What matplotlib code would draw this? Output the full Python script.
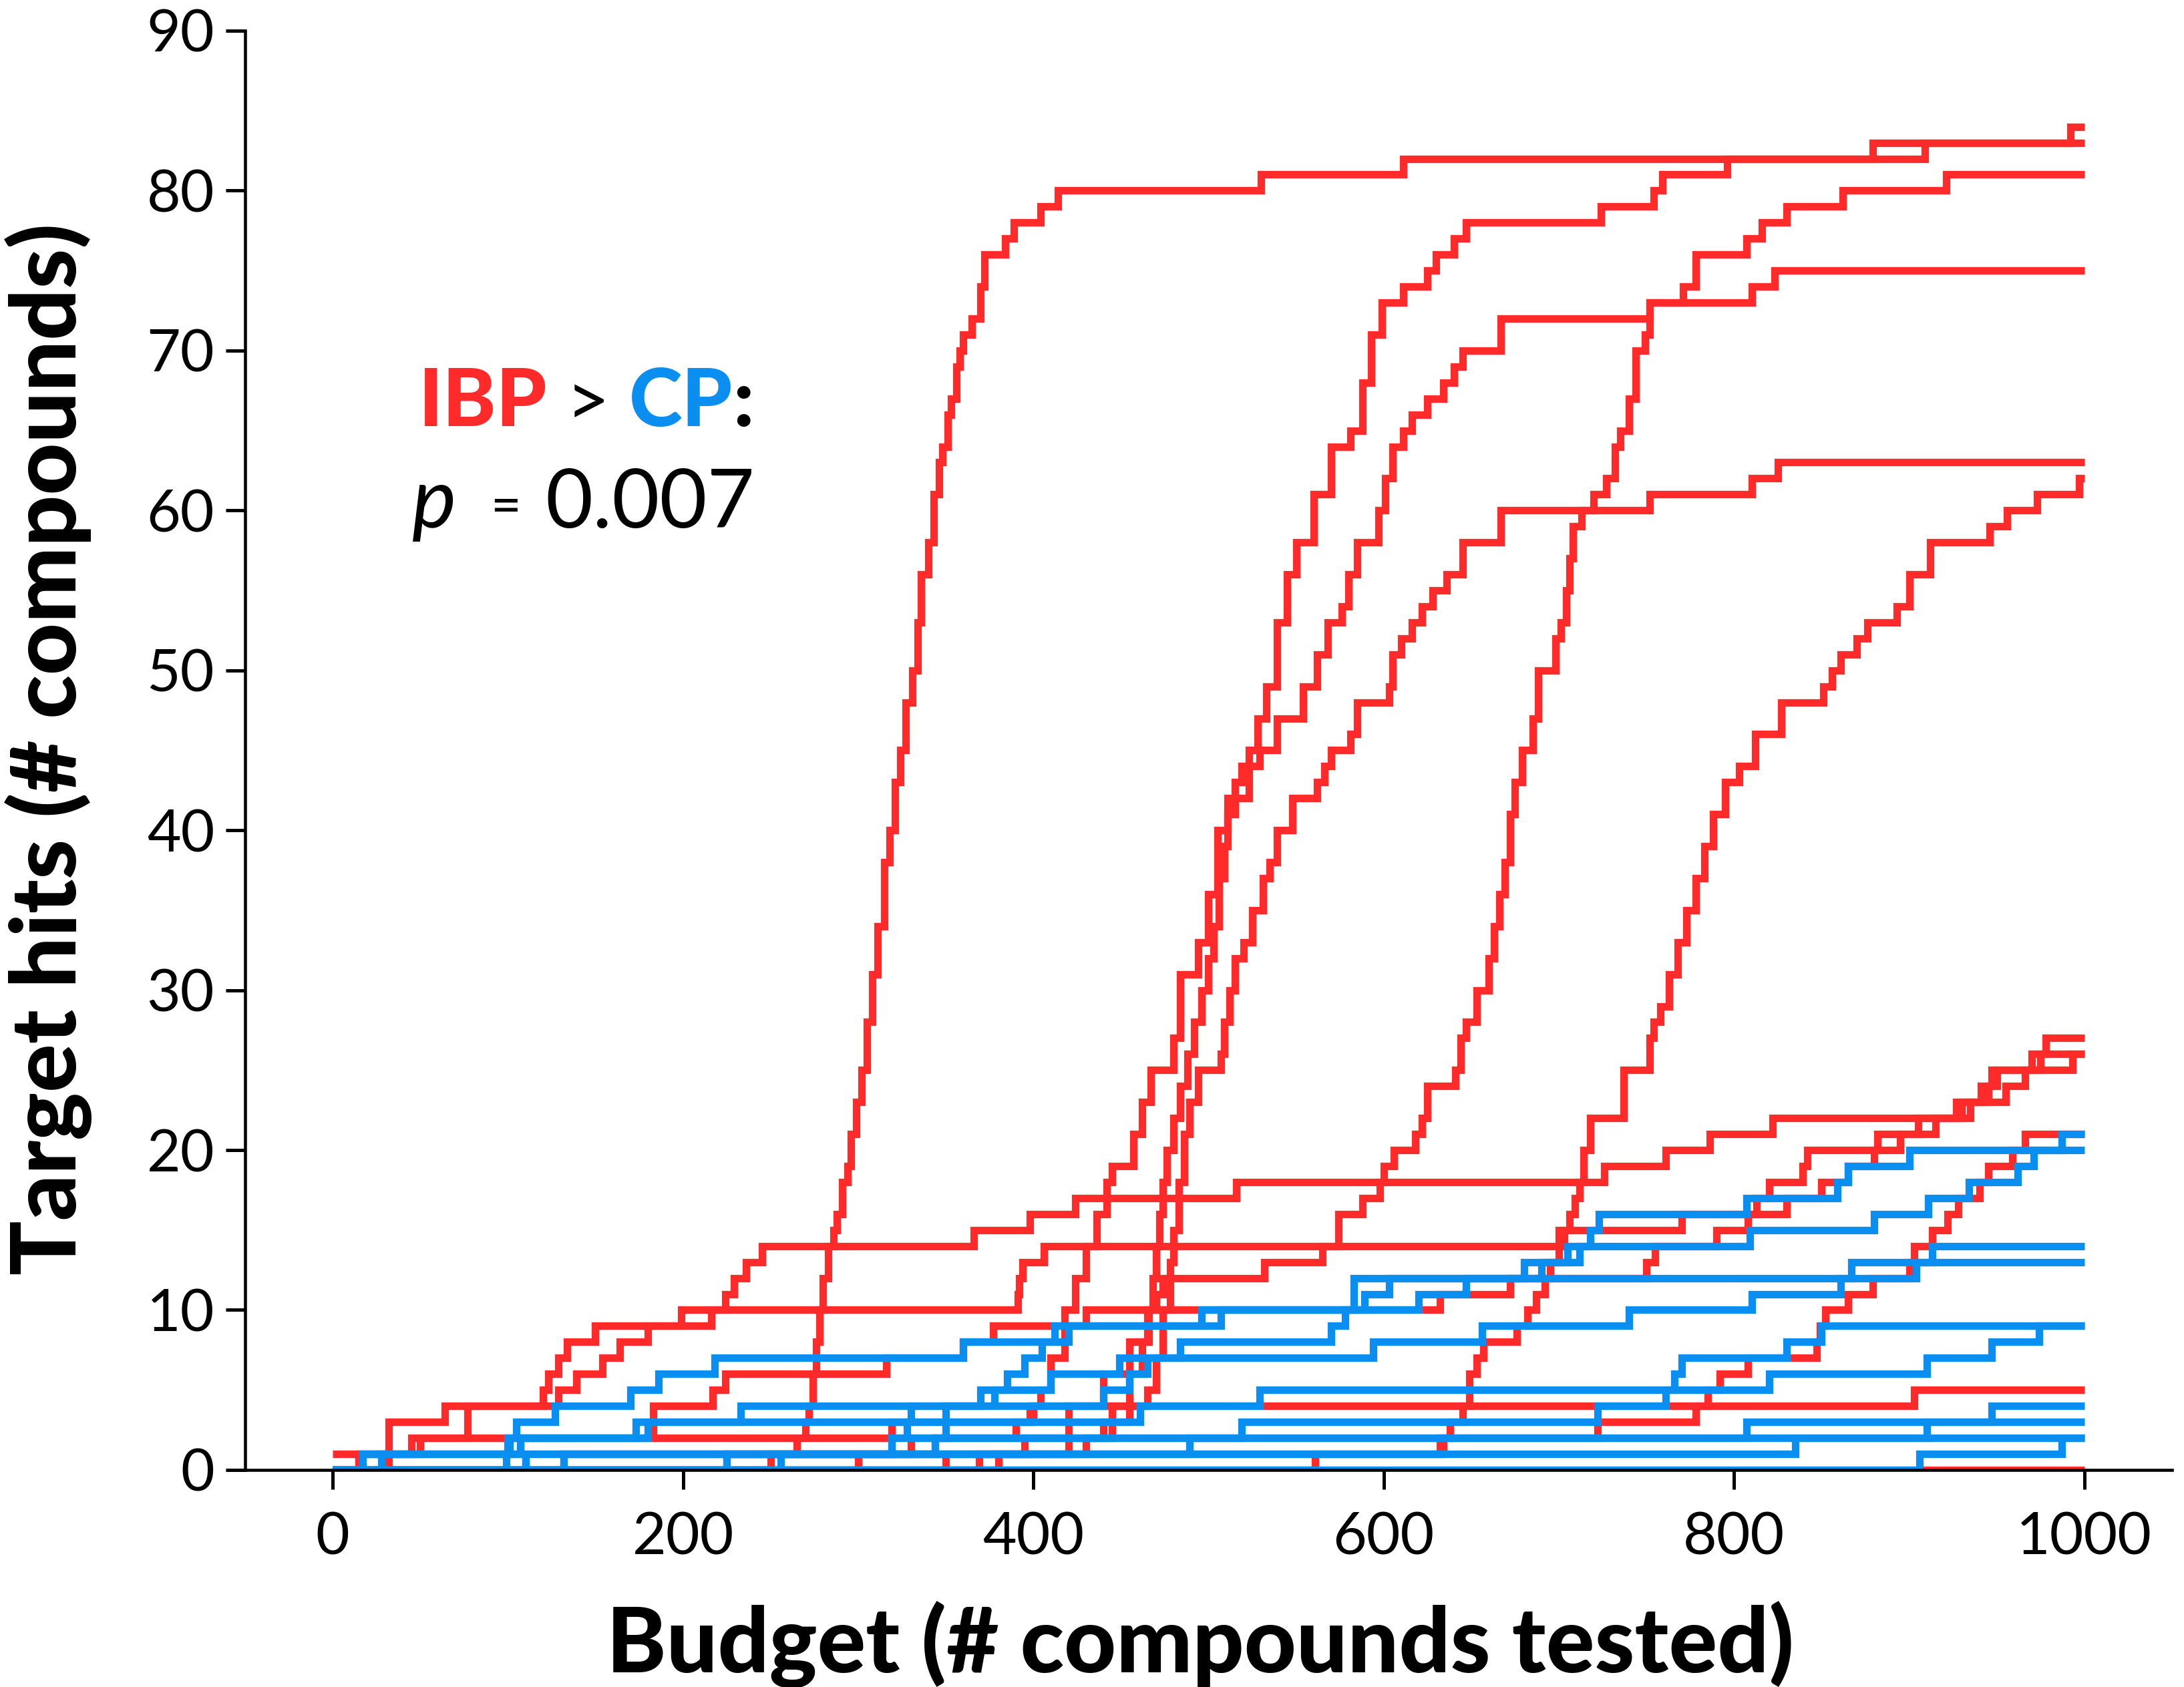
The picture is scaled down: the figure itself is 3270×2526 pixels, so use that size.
import matplotlib
matplotlib.use('Agg')
import matplotlib.pyplot as plt

# step points (budget, hits), one list per run
ibp_84 = [(0, 0), (250, 1), (265, 2), (270, 3), (272, 4), (274, 6), (276, 8), (278, 10), (280, 12),
          (283, 14), (286, 15), (288, 16), (291, 18), (294, 19), (296, 21), (299, 23), (302, 25),
          (305, 28), (308, 31), (311, 34), (315, 38), (318, 40), (321, 43), (324, 45), (327, 48),
          (331, 50), (334, 53), (336, 56), (340, 58), (343, 61), (346, 63), (348, 64), (351, 66),
          (353, 67), (356, 69), (358, 70), (360, 71), (365, 72), (370, 74), (372, 76), (384, 77),
          (389, 78), (404, 79), (414, 80), (530, 81), (611, 82), (879, 83), (992, 84), (1000, 84)]
ibp_83 = [(0, 0), (110, 1), (330, 2), (390, 3), (398, 4), (404, 5), (410, 7), (418, 10), (424, 12),
          (430, 14), (436, 16), (442, 18), (445, 19), (457, 21), (462, 23), (467, 25), (480, 27),
          (484, 31), (494, 33), (500, 36), (505, 40), (511, 42), (523, 45), (528, 47), (533, 49),
          (539, 53), (545, 56), (550, 58), (560, 61), (570, 64), (581, 65), (588, 68), (593, 71),
          (599, 73), (611, 74), (625, 75), (630, 76), (640, 77), (647, 78), (724, 79), (754, 80),
          (759, 81), (796, 82), (909, 83), (1000, 83)]
ibp_81 = [(0, 0), (380, 1), (395, 2), (420, 4), (440, 6), (455, 8), (465, 10), (470, 11), (474, 12),
          (532, 13), (565, 14), (574, 16), (588, 17), (598, 18), (600, 19), (606, 20), (618, 21),
          (622, 22), (625, 24), (641, 25), (644, 27), (647, 28), (653, 30), (660, 32), (663, 34),
          (666, 36), (669, 38), (672, 41), (675, 43), (679, 45), (685, 47), (688, 50), (698, 52),
          (701, 53), (704, 55), (706, 57), (708, 59), (713, 60), (720, 61), (727, 62), (732, 64),
          (735, 65), (740, 67), (744, 70), (749, 71), (752, 73), (771, 74), (778, 76),
          (807, 77), (816, 78), (830, 79), (862, 80), (921, 81), (1000, 81)]
ibp_75 = [(0, 0), (300, 1), (420, 2), (440, 3), (445, 4), (455, 6), (462, 8), (466, 10), (468, 12),
          (470, 14), (472, 16), (474, 18), (476, 20), (480, 22), (484, 24), (488, 26), (492, 28),
          (496, 30), (500, 32), (503, 34), (506, 37), (509, 39), (511, 41), (515, 43), (519, 44),
          (529, 45), (539, 47), (554, 49), (562, 51), (568, 53), (576, 54), (580, 56), (585, 58),
          (597, 60), (601, 62), (605, 64), (611, 65), (616, 66), (625, 67), (634, 68), (640, 69),
          (645, 70), (667, 72), (752, 73), (810, 74), (823, 75), (1000, 75)]
ibp_63 = [(0, 0), (350, 1), (430, 2), (445, 3), (455, 4), (465, 5), (470, 7), (474, 10), (478, 13),
          (480, 15), (483, 18), (486, 21), (489, 23), (494, 25), (507, 26), (509, 28), (512, 30),
          (515, 32), (520, 33), (525, 35), (531, 37), (535, 38), (539, 40), (548, 42), (562, 43),
          (566, 44), (570, 45), (581, 46), (585, 48), (603, 49), (605, 51), (610, 52), (616, 53),
          (622, 54), (628, 55), (636, 56), (645, 58), (667, 60), (752, 61), (810, 62), (825, 63),
          (1000, 63)]
ibp_62 = [(0, 0), (561, 1), (632, 2), (638, 3), (645, 4), (649, 6), (653, 7), (657, 8), (676, 9),
          (682, 10), (687, 11), (692, 12), (695, 13), (700, 14), (703, 15), (706, 16), (709, 17),
          (712, 18), (714, 20), (718, 22), (737, 25), (752, 27), (754, 28), (758, 29), (763, 31),
          (768, 33), (773, 35), (778, 37), (783, 39), (788, 41), (795, 43), (803, 44), (812, 46),
          (827, 48), (851, 49), (856, 50), (861, 51), (870, 52), (876, 53), (893, 54), (900, 56),
          (912, 58), (946, 59), (956, 60), (973, 61), (997, 62), (1000, 62)]
ibp_27 = [(0, 1), (45, 2), (77, 4), (129, 5), (139, 6), (154, 7), (164, 8), (180, 9), (216, 10),
          (224, 11), (229, 12), (236, 13), (245, 14), (366, 15), (398, 16), (424, 17), (516, 18),
          (726, 19), (761, 20), (786, 21), (822, 22), (927, 23), (941, 24), (947, 25), (970, 26),
          (978, 27), (1000, 27)]
ibp_26a = [(0, 0), (32, 3), (64, 4), (120, 5), (123, 6), (129, 7), (134, 8), (150, 9), (199, 10),
           (391, 11), (392, 12), (394, 13), (406, 14), (700, 15), (770, 16), (830, 17), (850, 18),
           (865, 19), (880, 20), (895, 21), (915, 22), (935, 23), (955, 24), (966, 25), (993, 26),
           (1000, 26)]
ibp_26b = [(0, 0), (15, 1), (50, 2), (183, 4), (217, 5), (224, 6), (316, 7), (360, 8), (377, 9),
           (430, 10), (632, 11), (672, 12), (750, 13), (755, 14), (790, 15), (808, 16), (813, 17),
           (820, 18), (839, 19), (842, 20), (882, 21), (905, 22), (930, 23), (945, 24), (950, 25),
           (975, 26), (1000, 26)]
ibp_21 = [(0, 0), (369, 1), (634, 2), (722, 3), (778, 4), (785, 5), (792, 6), (808, 7), (847, 8),
          (849, 9), (852, 10), (865, 11), (879, 12), (900, 13), (903, 14), (913, 15), (922, 16),
          (928, 17), (940, 18), (945, 19), (959, 20), (966, 21), (1000, 21)]
ibp_5 = [(0, 0), (15, 1), (107, 2), (319, 3), (400, 4), (903, 5), (1000, 5)]
ibp_0 = [(0, 0), (1000, 0)]

cp_21 = [(0, 0), (28, 1), (101, 2), (173, 3), (233, 4), (378, 5), (410, 6), (449, 7), (484, 8),
         (570, 9), (578, 10), (589, 11), (603, 12), (680, 13), (712, 14), (809, 15), (880, 16),
         (911, 17), (934, 18), (962, 19), (971, 20), (987, 21), (1000, 21)]
cp_20 = [(0, 0), (17, 1), (100, 2), (105, 3), (127, 4), (170, 5), (186, 6), (218, 7), (360, 8),
         (412, 9), (496, 10), (620, 11), (647, 12), (690, 13), (705, 14), (718, 15), (723, 16),
         (807, 17), (859, 18), (865, 19), (900, 20), (1000, 20)]
cp_14 = [(0, 0), (99, 1), (107, 2), (180, 3), (330, 4), (440, 5), (455, 6), (465, 7), (594, 8),
         (656, 9), (740, 10), (810, 11), (861, 12), (867, 13), (913, 14), (1000, 14)]
cp_13 = [(0, 0), (132, 1), (319, 2), (328, 3), (350, 4), (370, 5), (385, 6), (395, 7), (405, 8),
         (420, 9), (507, 10), (583, 12), (904, 13), (1000, 13)]
cp_9a = [(0, 0), (225, 1), (319, 2), (519, 3), (722, 4), (761, 5), (766, 6), (770, 7), (830, 8),
         (850, 9), (1000, 9)]
cp_9b = [(0, 0), (110, 1), (344, 2), (350, 3), (461, 4), (529, 5), (820, 6), (910, 7), (947, 8),
         (974, 9), (1000, 9)]
cp_4 = [(0, 0), (256, 1), (344, 2), (807, 3), (947, 4), (1000, 4)]
cp_3 = [(0, 0), (225, 1), (489, 2), (910, 3), (1000, 3)]
cp_2a = [(0, 0), (132, 1), (835, 2), (1000, 2)]
cp_2b = [(0, 0), (906, 1), (987, 2), (1000, 2)]

ibp_runs = [ibp_0, ibp_5, ibp_21, ibp_26b, ibp_26a, ibp_27, ibp_62, ibp_63, ibp_75, ibp_81, ibp_83, ibp_84]
cp_runs = [cp_2b, cp_2a, cp_3, cp_4, cp_9b, cp_9a, cp_13, cp_14, cp_20, cp_21]

x_ticks = [0, 200, 400, 600, 800, 1000]
y_ticks = [0, 10, 20, 30, 40, 50, 60, 70, 80, 90]

RED = '#ff2a2a'
BLUE = '#0a8ff0'
FONT = 'Lato'
W, H = 3270, 2526

fig = plt.figure(figsize=(10.9, 8.42), dpi=300)
ax = fig.add_axes([0.1122, 0.1287, 0.8823, 0.8531])

for run in ibp_runs:
    xs, ys = zip(*run)
    ax.step(xs, ys, where='post', color=RED, lw=2.7, solid_joinstyle='miter', solid_capstyle='butt')
for run in cp_runs:
    xs, ys = zip(*run)
    ax.step(xs, ys, where='post', color=BLUE, lw=2.7, solid_joinstyle='miter', solid_capstyle='butt')

ax.set_xlim(-50, 1050)
ax.set_ylim(0, 90)
ax.set_xticks(x_ticks)
ax.set_yticks(y_ticks)
for s in ['top', 'right']:
    ax.spines[s].set_visible(False)
for s in ['left', 'bottom']:
    ax.spines[s].set_linewidth(1.1)
ax.tick_params(direction='out', length=7, width=1.2, labelsize=21, colors='black')
ax.tick_params(axis='x', pad=8)
ax.tick_params(axis='y', pad=4)
for lab in ax.get_xticklabels() + ax.get_yticklabels():
    lab.set_fontfamily(FONT)
    lab.set_fontweight('normal')

fig.text(0.5495, 0.0253, 'Budget (# compounds tested)', ha='center', va='center',
         fontsize=32.5, fontweight='black', family=FONT)
fig.text(0.0223, 0.556, 'Target hits (# compounds)', ha='center', va='center', rotation=90,
         fontsize=32.5, fontweight='black', family=FONT)

# annotation, pieces placed one after another
fig.canvas.draw()
renderer = fig.canvas.get_renderer()
x0, base1, base2 = 627, 638, 790
pieces = [('IBP', RED, 'black', 29), (' > ', 'black', 'normal', 27),
          ('CP', BLUE, 'black', 29), (':', 'black', 'black', 29)]
cur = x0
for txt, col, wt, fs in pieces:
    t = fig.text(cur / W, 1 - base1 / H, txt, color=col, fontsize=fs, fontweight=wt,
                 family=FONT, ha='left', va='baseline')
    cur = t.get_window_extent(renderer).x1

fig.text(617 / W, 1 - base2 / H, 'p', fontsize=30, family=FONT, fontstyle='italic',
         ha='left', va='baseline', color='black')
fig.text(734 / W, 1 - (base2 - 6) / H, '=', fontsize=19, family=FONT,
         ha='left', va='baseline', color='black')
fig.text(816 / W, 1 - base2 / H, '0.007', fontsize=29.5, family=FONT,
         ha='left', va='baseline', color='black')

fig.savefig('out.png', dpi=300)
